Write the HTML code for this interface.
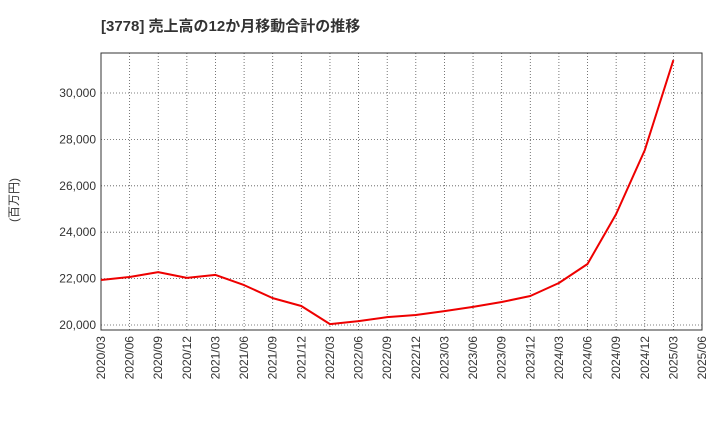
<!DOCTYPE html>
<html><head><meta charset="utf-8">
<style>
html,body{margin:0;padding:0;background:#fff;}
svg text{font-family:"Liberation Sans","Noto Sans CJK JP",sans-serif;}
</style></head>
<body>
<svg id="chart" width="720" height="440" xmlns="http://www.w3.org/2000/svg">
<text x="101" y="31" font-size="15" font-weight="bold" fill="#333">[3778]  売上高の12か月移動合計の推移</text>
<text transform="translate(18,200) rotate(-90)" text-anchor="middle" font-size="12" fill="#333">(百万円)</text>
<g id="grid"></g>
<g id="axes"></g>
<g id="series"></g>
</svg>
<script>
const categories=["2020/03","2020/06","2020/09","2020/12","2021/03","2021/06","2021/09","2021/12","2022/03","2022/06","2022/09","2022/12","2023/03","2023/06","2023/09","2023/12","2024/03","2024/06","2024/09","2024/12","2025/03","2025/06"];
const salesValues=[21940,22070,22280,22030,22160,21720,21160,20820,20040,20170,20340,20430,20600,20780,20990,21250,21810,22630,24780,27540,31420];
const yTicks=[20000,22000,24000,26000,28000,30000];
const yTickLabels=["20,000","22,000","24,000","26,000","28,000","30,000"];

const NS="http://www.w3.org/2000/svg";
const L=101,R=702,T=53,B=330;
function xPos(i){return L+(R-L)*i/(categories.length-1);}
function yPos(v){return 325-(v-20000)*232/10000;}
function mk(tag,attrs,parent){const e=document.createElementNS(NS,tag);for(const k in attrs)e.setAttribute(k,attrs[k]);parent.appendChild(e);return e;}
const grid=document.getElementById('grid'),axes=document.getElementById('axes'),series=document.getElementById('series');

categories.forEach((c,i)=>{
  const x=xPos(i);
  const gl=mk('line',{x1:x,x2:x,y1:T,y2:B,stroke:'#555','stroke-width':0.8,'stroke-dasharray':'1,2'},grid);
  
  
  const t=mk('text',{transform:`translate(${x+4},${B+6}) rotate(-90)`,'text-anchor':'end','font-size':12,fill:'#333'},axes);
  t.textContent=c;
  
  
});
yTicks.forEach((v,i)=>{
  const y=yPos(v);
  const gl=mk('line',{x1:L,x2:R,y1:y,y2:y,stroke:'#555','stroke-width':0.8,'stroke-dasharray':'1,2'},grid);
  
  
  const t=mk('text',{x:L-5,y:y+4,'text-anchor':'end','font-size':12,fill:'#333'},axes);
  t.textContent=yTickLabels[i];
  
  
});
const frame=mk('rect',{x:L,y:T,width:R-L,height:B-T,fill:'none',stroke:'#333','stroke-width':1},axes);



const pts=salesValues.map((v,i)=>xPos(i).toFixed(1)+','+yPos(v).toFixed(1)).join(' ');
const line=mk('polyline',{points:pts,fill:'none',stroke:'#e00','stroke-width':2,'stroke-linejoin':'round'},series);


</script>
</body></html>
